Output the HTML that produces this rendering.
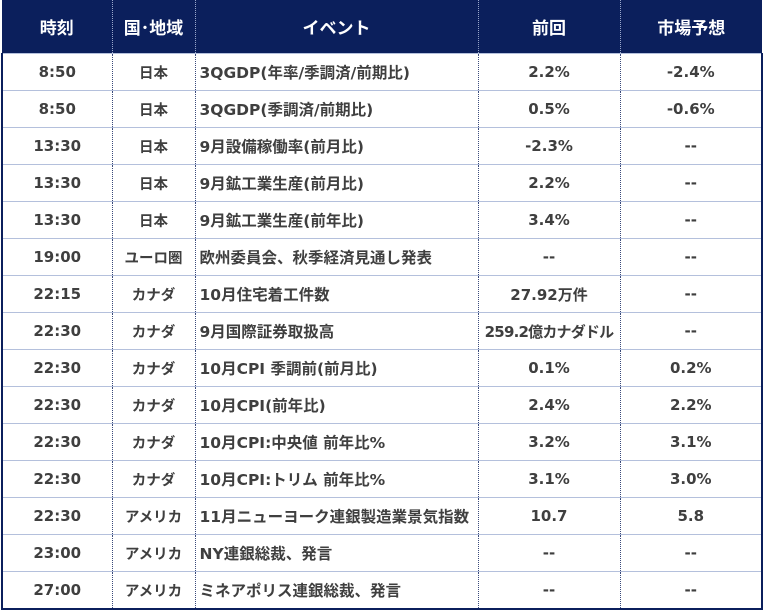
<!DOCTYPE html>
<html><head><meta charset="utf-8"><style>
body{margin:0;width:763px;height:609px;background:#fff;overflow:hidden}
table{position:absolute;left:1px;top:0;border-collapse:collapse;table-layout:fixed;width:760px;font-family:"DejaVu Sans","Noto Sans CJK JP",sans-serif;font-weight:bold;color:#3f3f3f;font-size:15px}
th{background:#0b1f5c;color:#fff;height:53px;font-size:17px;border-left:1px dotted #9aa8cc;padding:0;font-family:"Liberation Sans","Noto Sans CJK JP",sans-serif}
th:first-child{border-left:none}
td{height:36px;border-top:1px solid #b4c0dc;border-left:1px dotted #3a4a7a;text-align:center;padding:0;white-space:nowrap}
td:first-child{border-left:2px solid #0b1f5c}
td:last-child{border-right:2px solid #0b1f5c}
tr:last-child td{border-bottom:2px solid #0b1f5c}
td.ev{text-align:left;padding-left:4px;font-size:15.5px}
td.ctry{font-size:14.5px}
</style></head><body>
<table>
<colgroup><col style="width:110px"><col style="width:83px"><col style="width:283px"><col style="width:142px"><col style="width:142px"></colgroup>
<thead><tr>
<th>時刻</th>
<th>国･地域</th>
<th>イベント</th>
<th>前回</th>
<th>市場予想</th>
</tr></thead>
<tbody>
<tr><td>8:50</td><td class="ctry">日本</td><td class="ev">3QGDP(年率/季調済/前期比)</td><td>2.2%</td><td>-2.4%</td></tr>
<tr><td>8:50</td><td class="ctry">日本</td><td class="ev">3QGDP(季調済/前期比)</td><td>0.5%</td><td>-0.6%</td></tr>
<tr><td>13:30</td><td class="ctry">日本</td><td class="ev">9月設備稼働率(前月比)</td><td>-2.3%</td><td>--</td></tr>
<tr><td>13:30</td><td class="ctry">日本</td><td class="ev">9月鉱工業生産(前月比)</td><td>2.2%</td><td>--</td></tr>
<tr><td>13:30</td><td class="ctry">日本</td><td class="ev">9月鉱工業生産(前年比)</td><td>3.4%</td><td>--</td></tr>
<tr><td>19:00</td><td class="ctry">ユーロ圏</td><td class="ev">欧州委員会、秋季経済見通し発表</td><td>--</td><td>--</td></tr>
<tr><td>22:15</td><td class="ctry">カナダ</td><td class="ev">10月住宅着工件数</td><td>27.92万件</td><td>--</td></tr>
<tr><td>22:30</td><td class="ctry">カナダ</td><td class="ev">9月国際証券取扱高</td><td style="letter-spacing:-0.8px;font-size:15px">259.2億カナダドル</td><td>--</td></tr>
<tr><td>22:30</td><td class="ctry">カナダ</td><td class="ev">10月CPI 季調前(前月比)</td><td>0.1%</td><td>0.2%</td></tr>
<tr><td>22:30</td><td class="ctry">カナダ</td><td class="ev">10月CPI(前年比)</td><td>2.4%</td><td>2.2%</td></tr>
<tr><td>22:30</td><td class="ctry">カナダ</td><td class="ev">10月CPI:中央値 前年比%</td><td>3.2%</td><td>3.1%</td></tr>
<tr><td>22:30</td><td class="ctry">カナダ</td><td class="ev">10月CPI:トリム 前年比%</td><td>3.1%</td><td>3.0%</td></tr>
<tr><td>22:30</td><td class="ctry">アメリカ</td><td class="ev">11月ニューヨーク連銀製造業景気指数</td><td>10.7</td><td>5.8</td></tr>
<tr><td>23:00</td><td class="ctry">アメリカ</td><td class="ev">NY連銀総裁、発言</td><td>--</td><td>--</td></tr>
<tr><td>27:00</td><td class="ctry">アメリカ</td><td class="ev">ミネアポリス連銀総裁、発言</td><td>--</td><td>--</td></tr>
</tbody></table>
</body></html>
